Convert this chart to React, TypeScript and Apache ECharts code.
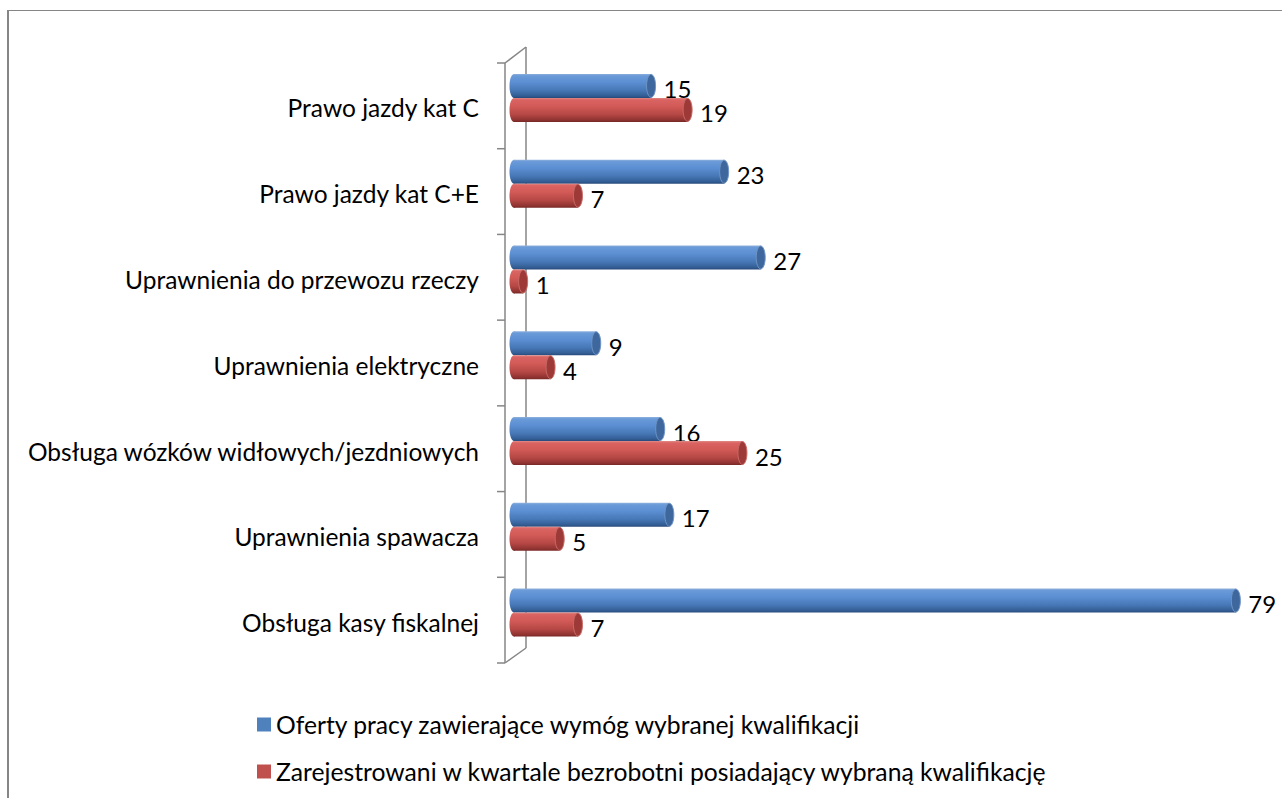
import React, { useEffect, useRef } from "react";
import * as echarts from "echarts";

const categories = [
  "Prawo jazdy kat C",
  "Prawo jazdy kat C+E",
  "Uprawnienia do przewozu rzeczy",
  "Uprawnienia elektryczne",
  "Obsługa wózków widłowych/jezdniowych",
  "Uprawnienia spawacza",
  "Obsługa kasy fiskalnej",
];
const seriesNames = [
  "Oferty pracy zawierające wymóg wybranej kwalifikacji",
  "Zarejestrowani w kwartale bezrobotni posiadający wybraną kwalifikację",
];
const offers = [15, 23, 27, 9, 16, 17, 79];
const registered = [19, 7, 1, 4, 25, 5, 7];

const FONT = "Lato";

const palettes = [
  {
    base: "#4F81BD",
    body: [
      [0, "#8fb1dc"],
      [0.08, "#6a9ad8"],
      [0.35, "#5b8fd3"],
      [0.7, "#4676b4"],
      [0.92, "#325d93"],
      [1, "#28497a"],
    ],
    cap: "#3d679d",
    capStroke: "#6f94c4",
  },
  {
    base: "#C0504D",
    body: [
      [0, "#e08a88"],
      [0.08, "#da6462"],
      [0.35, "#d25a57"],
      [0.7, "#b44744"],
      [0.92, "#8f3331"],
      [1, "#772826"],
    ],
    cap: "#9d3a37",
    capStroke: "#c86a67",
  },
];

export default function App() {
  const ref = useRef<HTMLDivElement>(null);
  useEffect(() => {
    if (!ref.current) return;
    const chart = echarts.init(ref.current, null, { renderer: "svg" });
    const barH = 24;
    const rx = 4.5;
    const makeRender = (sIdx: number) => (params: any, api: any) => {
      const cat = api.value(0);
      const val = api.value(1);
      const end = api.coord([val, cat]);
      const start = api.coord([0, cat]);
      const yc = end[1] + (sIdx === 0 ? -barH / 2 : barH / 2);
      const x0 = start[0];
      const x1 = end[0];
      const p = palettes[sIdx];
      const grad = () =>
        new echarts.graphic.LinearGradient(
          0,
          0,
          0,
          1,
          p.body.map(([o, c]) => ({ offset: o as number, color: c as string }))
        );
      return {
        type: "group",
        children: [
          {
            type: "ellipse",
            shape: { cx: x0, cy: yc, rx, ry: barH / 2 },
            style: { fill: grad() },
          },
          {
            type: "rect",
            shape: { x: x0, y: yc - barH / 2, width: Math.max(x1 - x0, 0), height: barH },
            style: { fill: grad() },
          },
          {
            type: "ellipse",
            shape: { cx: x1, cy: yc, rx, ry: barH / 2 - 0.5 },
            style: { fill: p.cap, stroke: p.capStroke, lineWidth: 1 },
          },
          {
            type: "text",
            x: x1 + rx + 8,
            y: yc + 3,
            style: {
              text: String(val),
              fill: "#000",
              font: `24px ${FONT}`,
              verticalAlign: "middle",
              align: "left",
            },
          },
        ],
      };
    };

    const gray = "#868686";
    const frontX = 505;
    const backX = 526;
    const frontTop = 63;
    const frontBot = 663;
    const backTop = 47;
    const backBot = 648;
    const ticks: any[] = [];
    for (let i = 0; i <= categories.length; i++) {
      const y = frontTop + ((frontBot - frontTop) * i) / categories.length;
      ticks.push({
        type: "line",
        shape: { x1: frontX - 8, y1: y, x2: frontX, y2: y },
        style: { stroke: gray, lineWidth: 1.5 },
        z: 0,
      });
    }

    chart.setOption({
      animation: false,
      grid: { left: 514, right: 37, top: 55, bottom: 142.5, containLabel: false },
      xAxis: { type: "value", min: 0, max: 80, show: false },
      yAxis: {
        type: "category",
        data: categories,
        inverse: true,
        axisLine: { show: false },
        axisTick: { show: false },
        splitLine: { show: false },
        axisLabel: {
          color: "#000",
          fontSize: 24.5,
          fontFamily: FONT,
          margin: 35,
          verticalAlign: "top",
          lineHeight: 20,
        },
      },
      legend: {
        orient: "vertical",
        left: 252,
        top: 707,
        icon: "rect",
        itemWidth: 14,
        itemHeight: 14,
        itemGap: 22,
        textStyle: { color: "#000", fontSize: 24.7, fontFamily: FONT },
        data: [
          { name: seriesNames[0], itemStyle: { color: palettes[0].base } },
          { name: seriesNames[1], itemStyle: { color: palettes[1].base } },
        ],
      },
      graphic: [
        { type: "line", shape: { x1: 8, y1: 10, x2: 8, y2: 798 }, style: { stroke: gray, lineWidth: 2 } },
        { type: "line", shape: { x1: 8, y1: 10.5, x2: 1282, y2: 10.5 }, style: { stroke: gray, lineWidth: 1 } },
        { type: "line", shape: { x1: frontX, y1: frontTop, x2: frontX, y2: frontBot }, style: { stroke: gray, lineWidth: 1.5 }, z: 0 },
        { type: "line", shape: { x1: backX, y1: backTop, x2: backX, y2: backBot }, style: { stroke: gray, lineWidth: 1.5 }, z: 0 },
        { type: "line", shape: { x1: frontX, y1: frontTop, x2: backX, y2: backTop }, style: { stroke: gray, lineWidth: 1.5 }, z: 0 },
        { type: "line", shape: { x1: frontX, y1: frontBot, x2: backX, y2: backBot }, style: { stroke: gray, lineWidth: 1.5 }, z: 0 },
        ...ticks,
      ],
      series: [
        {
          type: "custom",
          name: seriesNames[0],
          itemStyle: { color: palettes[0].base },
          encode: { x: 1, y: 0 },
          data: offers.map((v, i) => [i, v]),
          renderItem: makeRender(0),
          z: 3,
        },
        {
          type: "custom",
          name: seriesNames[1],
          itemStyle: { color: palettes[1].base },
          encode: { x: 1, y: 0 },
          data: registered.map((v, i) => [i, v]),
          renderItem: makeRender(1),
          z: 3,
        },
      ],
    });
    return () => chart.dispose();
  }, []);
  return (
    <div
      ref={ref}
      style={{ position: "fixed", left: 0, top: 0, width: 1282, height: 798, background: "#fff" }}
    />
  );
}
